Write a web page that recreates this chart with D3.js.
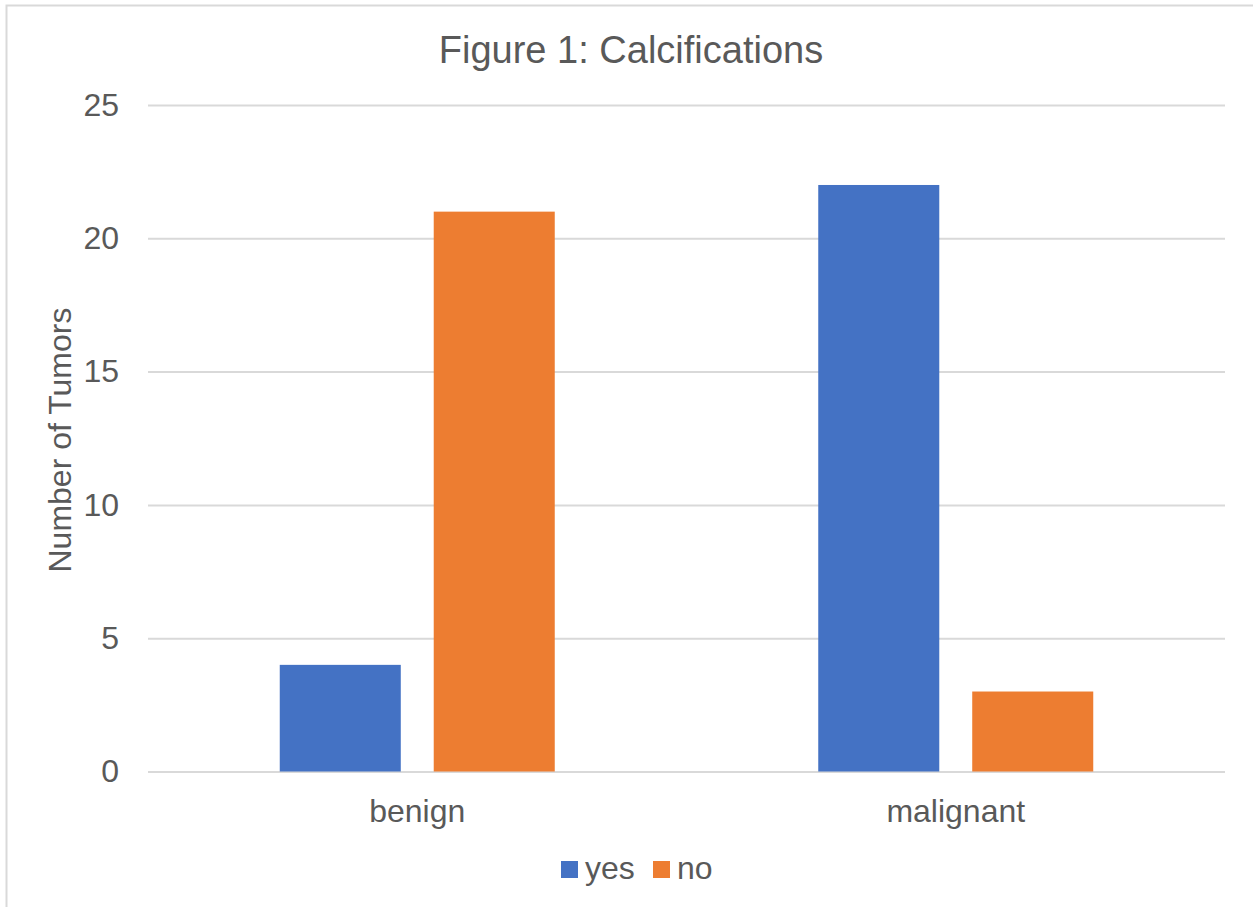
<!DOCTYPE html>
<html>
<head>
<meta charset="utf-8">
<script src="https://cdn.jsdelivr.net/npm/d3@7"></script>
<style>
  body { margin: 0; background: #fff; }
  text { font-family: "Liberation Sans", Arial, sans-serif; fill: #595959; }
</style>
</head>
<body>
<div id="chart"></div>
<script>
// chart data
var categories = ["benign", "malignant"];
var seriesNames = ["yes", "no"];
var yesValues = [4, 22];
var noValues = [21, 3];
var yTicks = [0, 5, 10, 15, 20, 25];
var colors = ["#4472C4", "#ED7D31"];

var W = 1253, H = 907;
var margin = { left: 148, right: 28, top: 105, bottom: 136 };

var svg = d3.select('#chart').append('svg')
	.attr('width', W)
	.attr('height', H);

// chart border (only top and left edges fall inside the picture)
svg.append('rect')
	.attr('x', 6.5)
	.attr('y', 5.5)
	.attr('width', W + 10)
	.attr('height', H + 10)
	.attr('fill', 'none')
	.attr('stroke', '#d9d9d9')
	.attr('stroke-width', 2);

var y = d3.scaleLinear()
	.domain([0, 25])
	.range([H - margin.bottom + 0.5, margin.top]);

var x0 = d3.scaleBand()
	.domain(categories)
	.range([margin.left, W - margin.right]);

var gap = 131.75;
var x1 = d3.scaleBand()
	.domain(seriesNames)
	.range([gap, x0.bandwidth() - gap])
	.paddingInner(0.214);

// gridlines
var yAxis = d3.axisLeft(y)
	.tickValues(yTicks)
	.tickSize(-(W - margin.right - margin.left))
	.tickPadding(29)
	.tickFormat(d3.format('d'));

var gy = svg.append('g')
	.attr('transform', 'translate(' + margin.left + ',0)')
	.call(yAxis);
gy.select('.domain').remove();
gy.selectAll('.tick line')
	.attr('stroke', '#d9d9d9')
	.attr('stroke-width', 2);
gy.selectAll('.tick text')
	.style('font-size', '32px')
	.attr('fill', '#595959');

// bars
var rows = categories.map(function (c, i) {
	return { cat: c, vals: [yesValues[i], noValues[i]] };
});

var groups = svg.selectAll('.group')
	.data(rows)
	.enter()
	.append('g')
	.attr('transform', function (d) { return 'translate(' + x0(d.cat) + ',0)'; });

groups.selectAll('rect')
	.data(function (d) {
		return d.vals.map(function (v, j) { return { s: seriesNames[j], v: v, j: j }; });
	})
	.enter()
	.append('rect')
	.attr('x', function (d) { return x1(d.s); })
	.attr('y', function (d) { return y(d.v); })
	.attr('width', x1.bandwidth())
	.attr('height', function (d) { return y(0) - y(d.v); })
	.attr('fill', function (d) { return colors[d.j]; });

// category labels
var xAxis = d3.axisBottom(x0).tickSize(0).tickPadding(28);
var gx = svg.append('g')
	.attr('transform', 'translate(0,' + y(0) + ')')
	.call(xAxis);
gx.select('.domain').remove();
gx.selectAll('.tick text')
	.style('font-size', '32px')
	.attr('fill', '#595959');

// title
svg.append('text')
	.attr('x', 631)
	.attr('y', 63)
	.attr('text-anchor', 'middle')
	.style('font-size', '38px')
	.text('Figure 1: Calcifications');

// y axis title
svg.append('text')
	.attr('transform', 'translate(71,' + 440 + ') rotate(-90)')
	.attr('text-anchor', 'middle')
	.style('font-size', '32px')
	.text('Number of Tumors');

// legend
var legend = svg.append('g');
var legendX = [561, 653];
seriesNames.forEach(function (s, i) {
	legend.append('rect')
		.attr('x', legendX[i])
		.attr('y', 861)
		.attr('width', 17)
		.attr('height', 17)
		.attr('fill', colors[i]);
	legend.append('text')
		.attr('x', legendX[i] + 24)
		.attr('y', 879)
		.style('font-size', '32px')
		.text(s);
});
</script>
</body>
</html>
